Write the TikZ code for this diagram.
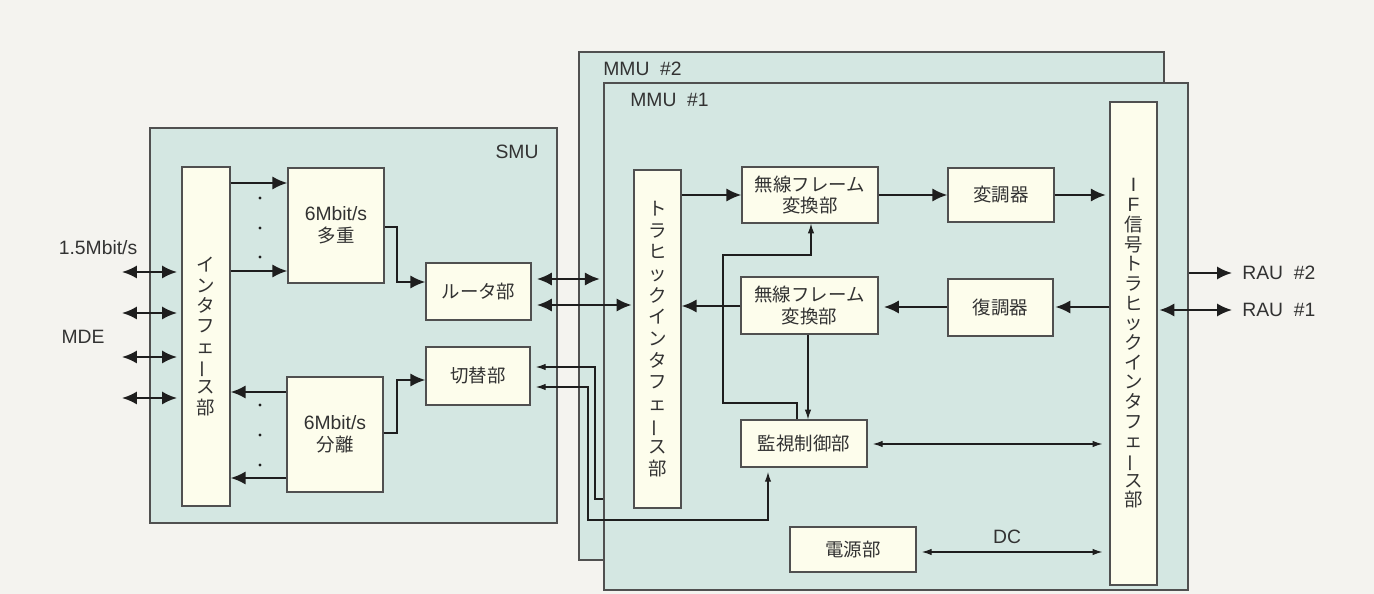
\documentclass[tikz,border=0pt]{standalone}
\usepackage{fontspec}
\usepackage{graphicx}
\setmainfont{Liberation Sans}
\newfontfamily\jp{Noto Sans CJK JP}
\usetikzlibrary{arrows.meta}
\definecolor{pagebg}{RGB}{244,243,239}
\definecolor{unitfill}{RGB}{212,231,226}
\definecolor{blkfill}{RGB}{253,253,236}
\definecolor{bordc}{RGB}{80,80,80}
\definecolor{linec}{RGB}{30,30,30}
\definecolor{txtc}{RGB}{50,50,50}
\newcommand\jpvbar{\rotatebox[origin=c]{90}{ー}}
\newcommand\lat{\rmfamily\fontsize{11}{12.5}\selectfont}
\newcommand\Bx[7]{\node[#1, minimum width={(#5-#3)*0.02cm}, minimum height={(#6-#4)*0.02cm}] (#2) at ({(#3+#5)/2},{(#4+#6)/2}) {#7};}
\begin{document}
\begin{tikzpicture}[x=0.02cm,y=-0.02cm,
  unit/.style={draw=bordc, line width=0.7pt, fill=unitfill, inner sep=0pt},
  blk/.style={draw=bordc, line width=0.7pt, fill=blkfill, inner sep=0pt, align=center, text=txtc, font={\jp\fontsize{10.5}{12.5}\selectfont}},
  vblk/.style={blk, font={\jp\fontsize{10.5}{#1}\selectfont}},
  lbl/.style={text=txtc, inner sep=0pt, font={\rmfamily\fontsize{11}{13}\selectfont}},
  thk/.style={draw=linec, line width=1.2pt, -{Latex[length=8.5pt,width=7.5pt]}},
  thkd/.style={draw=linec, line width=1.2pt, {Latex[length=8.5pt,width=7.5pt]}-{Latex[length=8.5pt,width=7.5pt]}},
  thn/.style={draw=linec, line width=0.6pt, -{Latex[length=5.5pt,width=3.6pt]}},
  thnd/.style={draw=linec, line width=0.6pt, {Latex[length=5.5pt,width=3.6pt]}-{Latex[length=5.5pt,width=3.6pt]}},
]
\fill[pagebg] (0,0) rectangle (1374,594);
\useasboundingbox (0,0) rectangle (1374,594);

% units
\Bx{unit}{MMU2}{579}{52}{1164}{560}{}
\Bx{unit}{MMU1}{604}{83}{1188}{590}{}
\Bx{unit}{SMU}{150}{128}{557}{523}{}
\node[lbl] (smul) at (517,152) {SMU};
\node[lbl, anchor=west] (mmu2l) at (603,69) {MMU\ \ \#2};
\node[lbl, anchor=west] (mmu1l) at (630,100) {MMU\ \ \#1};

% SMU blocks
\Bx{vblk=11.6pt}{ifc}{182}{167}{230}{506}{イ\\ン\\タ\\フ\\ェ\\\jpvbar\\ス\\部}
\Bx{blk}{mux}{288}{168}{384}{283}{{\lat 6Mbit/s}\\多重}
\Bx{blk}{demux}{287}{377}{383}{492}{{\lat 6Mbit/s}\\分離}
\Bx{blk}{router}{426}{263}{531}{320}{ルータ部}
\Bx{blk}{switch}{426}{347}{530}{405}{切替部}

% MMU blocks
\Bx{vblk=12.3pt}{tif}{634}{170}{681}{508}{ト\\ラ\\ヒ\\ッ\\ク\\イ\\ン\\タ\\フ\\ェ\\\jpvbar\\ス\\部}
\Bx{blk}{wf1}{742}{167}{878}{223}{無線フレーム\\変換部}
\Bx{blk}{mod}{948}{168}{1054}{222}{変調器}
\Bx{blk}{wf2}{741}{277}{878}{334}{無線フレーム\\変換部}
\Bx{blk}{demod}{948}{279}{1053}{336}{復調器}
\Bx{blk}{sv}{741}{420}{867}{467}{監視制御部}
\Bx{blk}{ps}{790}{527}{916}{572}{電源部}
\Bx{vblk=11.2pt}{iff}{1110}{102}{1157}{585}{{\lat I}\\{\lat F}\\信\\号\\ト\\ラ\\ヒ\\ッ\\ク\\イ\\ン\\タ\\フ\\ェ\\\jpvbar\\ス\\部}

% left side labels and arrows
\node[lbl] (rate) at (98,248) {1.5Mbit/s};
\node[lbl] (mde) at (83,337) {MDE};
\foreach \i/\yy in {1/272,2/313,3/357,4/398}{
  \coordinate (m\i) at (122,\yy);
  \draw[thkd, shorten >=2.5pt] (m\i) -- (ifc.west |- m\i);
}

% interface <-> mux/demux
\draw[thk] (ifc.east |- 0,183) -- (mux.west |- 0,183);
\draw[thk] (ifc.east |- 0,271) -- (mux.west |- 0,271);
\draw[thk] (demux.west |- 0,392) -- (ifc.east |- 0,392);
\draw[thk] (demux.west |- 0,478) -- (ifc.east |- 0,478);
\foreach \yy in {198,228,257,405,435,465}{ \fill[linec] (260,\yy) circle (0.9pt); }

% mux -> router, demux -> switch
\draw[thk] (mux.east |- 0,227) -| (397,282) -- (router.west |- 0,282);
\draw[thk] (demux.east |- 0,433) -| (397,380) -- (switch.west |- 0,380);

% router <-> MMU
\draw[thkd, shorten <=3pt, shorten >=2pt] (router.east |- 0,279) -- (MMU1.west |- 0,279);
\draw[thkd, shorten <=3pt, shorten >=1pt] (router.east |- 0,305) -- (tif.west |- 0,305);

% switch control lines
\draw[thn, shorten >=3pt] (MMU1.west |- 0,499) -| (595,367) -- (switch.east |- 0,367);
\draw[thnd, shorten <=3pt, shorten >=2.5pt] (switch.east |- 0,387) -| (588,520) -| (sv.south -| 768,0);

% MMU main path
\draw[thk] (tif.east |- 0,195) -- (wf1.west |- 0,195);
\draw[thk] (wf1.east |- 0,195) -- (mod.west |- 0,195);
\draw[thk, shorten >=2pt] (mod.east |- 0,195) -- (iff.west |- 0,195);
\draw[thk] (wf2.west |- 0,306) -- (tif.east |- 0,306);
\draw[thk, shorten >=3pt] (demod.west |- 0,307) -- (wf2.east |- 0,307);
\draw[thk, shorten >=1pt] (iff.west |- 0,307) -- (demod.east |- 0,307);

% supervisory lines
\draw[thn] (wf2.south -| 808,0) -- (sv.north -| 808,0);
\draw[thn] (sv.north -| 797,0) |- (723,403) |- (811,255) -- (wf1.south -| 811,0);
\draw[thnd, shorten <=3pt, shorten >=4pt] (sv.east |- 0,444) -- (iff.west |- 0,444);
\draw[thnd, shorten <=3pt, shorten >=4pt] (ps.east |- 0,552) -- (iff.west |- 0,552);
\node[lbl] (dc) at (1007,537) {DC};

% RAU
\coordinate (r2) at (1232,273);
\coordinate (r1) at (1232,310);
\draw[thk] (MMU1.east |- r2) -- (r2);
\draw[thkd, shorten <=1pt] (iff.east |- r1) -- (r1);
\node[lbl, anchor=west] (rau2) at (1242,273) {RAU\ \ \#2};
\node[lbl, anchor=west] (rau1) at (1242,310) {RAU\ \ \#1};
\end{tikzpicture}
\end{document}
